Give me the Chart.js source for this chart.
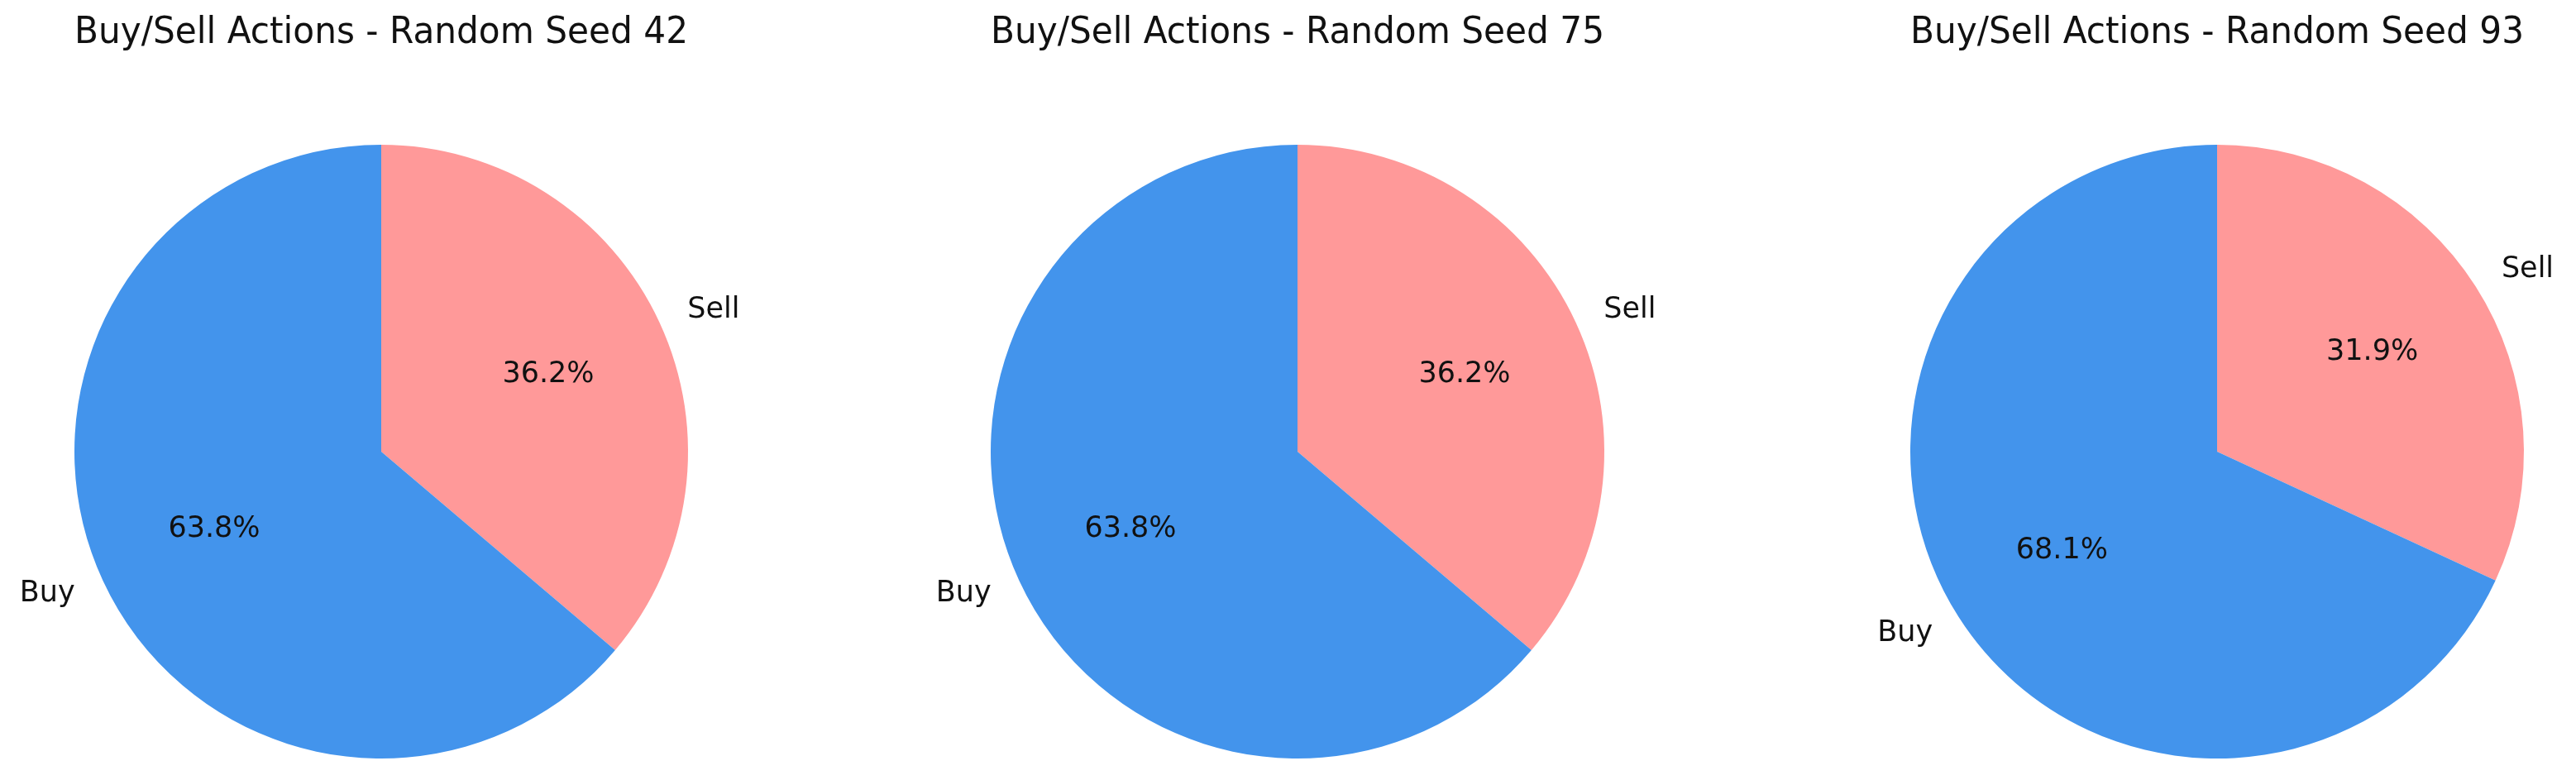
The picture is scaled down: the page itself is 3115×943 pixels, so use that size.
<!DOCTYPE html>
<html>
<head>
<meta charset="utf-8">
<script src="https://cdn.jsdelivr.net/npm/chart.js@4.4.1/dist/chart.umd.min.js"></script>
<style>
  html, body { margin: 0; padding: 0; background: #ffffff; }
  body { width: 3115px; height: 943px; position: relative; overflow: hidden; }
  .pie { position: absolute; top: 0; height: 943px; }
</style>
</head>
<body>
<div class="pie" id="w0" style="left:1px;width:920px;"><canvas id="c0"></canvas></div>
<div class="pie" id="w1" style="left:1109px;width:920px;"><canvas id="c1"></canvas></div>
<div class="pie" id="w2" style="left:2251px;width:860px;"><canvas id="c2"></canvas></div>
<script>
// ---- data ----
const seeds = [42, 75, 93];
const categories = ['Sell', 'Buy'];
const sellShare = [36.2, 36.2, 31.9];
const buyShare = [63.8, 63.8, 68.1];
const titles = seeds.map(s => 'Buy/Sell Actions - Random Seed ' + s);

// ---- styles ----
const FONT = '"DejaVu Sans", Verdana, sans-serif';
const colors = ['#FF9999', '#4394EC'];
const RADIUS = 371;

const pieLabels = {
  id: 'pieLabels',
  afterDatasetsDraw(chart) {
    const ctx = chart.ctx;
    const meta = chart.getDatasetMeta(0);
    const vals = chart.data.datasets[0].data;
    const total = vals.reduce((a, b) => a + b, 0);
    ctx.save();
    ctx.fillStyle = '#111111';
    ctx.font = '35px ' + FONT;
    ctx.textBaseline = 'middle';
    meta.data.forEach((arc, i) => {
      const p = arc.getProps(['x', 'y', 'startAngle', 'endAngle', 'outerRadius'], true);
      const mid = (p.startAngle + p.endAngle) / 2;
      const c = Math.cos(mid), s = Math.sin(mid);
      // category label outside
      const lx = p.x + 1.1 * p.outerRadius * c;
      const ly = p.y + 1.1 * p.outerRadius * s;
      ctx.textAlign = c >= 0 ? 'left' : 'right';
      ctx.fillText(chart.data.labels[i], lx, ly);
      // percentage inside
      const px = p.x + 0.6 * p.outerRadius * c;
      const py = p.y + 0.6 * p.outerRadius * s;
      ctx.textAlign = 'center';
      ctx.fillText((vals[i] / total * 100).toFixed(1) + '%', px, py);
    });
    ctx.restore();
  }
};

seeds.forEach((seed, k) => {
  const wrap = document.getElementById('w' + k);
  const W = wrap.clientWidth;
  const side = (W - 2 * RADIUS) / 2;
  new Chart(document.getElementById('c' + k), {
    type: 'pie',
    data: {
      labels: categories,
      datasets: [{
        data: [sellShare[k], buyShare[k]],
        backgroundColor: colors,
        borderWidth: 0,
        hoverOffset: 0
      }]
    },
    options: {
      responsive: true,
      maintainAspectRatio: false,
      animation: false,
      events: [],
      layout: { padding: { top: 0, bottom: 26, left: side, right: side } },
      plugins: {
        legend: { display: false },
        tooltip: { enabled: false },
        title: {
          display: true,
          text: titles[k],
          color: '#111111',
          font: { family: FONT, size: 44, weight: 'normal', lineHeight: 1.2 },
          padding: { top: 14, bottom: 175 - 14 - 44 * 1.2 }
        }
      }
    },
    plugins: [pieLabels]
  });
});
</script>
</body>
</html>
